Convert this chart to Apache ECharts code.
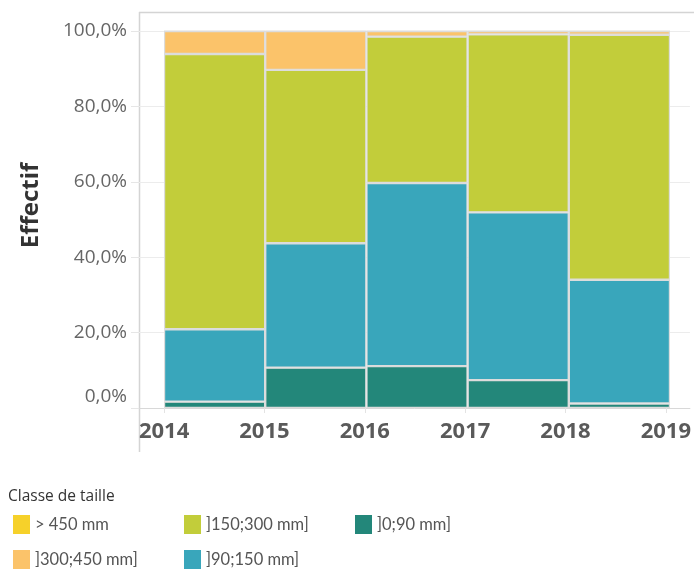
<!DOCTYPE html>
<html lang="fr">
  <head>
    <meta charset="UTF-8" />
    <title>Classe de taille</title>
    <script src="https://cdn.jsdelivr.net/npm/echarts@6/dist/echarts.min.js"></script>
    <style>
      html, body { margin: 0; padding: 0; background: #fff; }
    </style>
  </head>
  <body>
    <div id="main" style="width: 694px; height: 583px"></div>
    <script>
      // one bar per period, each spanning one year
      const periods = ['2014', '2015', '2016', '2017', '2018'];
      const yearTicks = [2014, 2015, 2016, 2017, 2018, 2019];

      // share of catches per size class (%), bottom to top
      const cls0_90 = [1.7, 10.7, 11.1, 7.4, 1.2];
      const cls90_150 = [19.2, 33.0, 48.6, 44.5, 32.8];
      const cls150_300 = [73.0, 46.0, 38.8, 47.2, 65.0];
      const cls300_450 = [6.1, 10.3, 1.5, 0.9, 1.0];
      const clsOver450 = [0, 0, 0, 0, 0];

      const font = 'Open Sans';
      const chart = echarts.init(document.getElementById('main'));

      function makeSeries(name, values, color) {
        return {
          name: name,
          type: 'bar',
          stack: 'total',
          xAxisIndex: 1,
          yAxisIndex: 1,
          barCategoryGap: 0,
          data: values,
          itemStyle: { color: color, borderColor: '#dcdcdc', borderWidth: 1.2 },
          emphasis: { disabled: true },
        };
      }

      const legendBase = {
        orient: 'vertical',
        top: 510,
        itemWidth: 17,
        itemHeight: 19,
        itemGap: 16,
        itemTextGap: 6,
        itemStyle: { borderWidth: 0 },
        textStyle: { fontFamily: 'Lato', fontSize: 16.5, color: '#555' },
        selectedMode: false,
        icon: 'rect',
      };

      const option = {
        animation: false,
        title: {
          text: 'Classe de taille',
          left: 3,
          top: 484,
          textStyle: { fontFamily: font, fontSize: 15.5, fontWeight: 'normal', color: '#333' },
        },
        legend: [
          Object.assign({}, legendBase, { left: 8, data: ['> 450 mm', ']300;450 mm]'] }),
          Object.assign({}, legendBase, { left: 179, data: [']150;300 mm]', ']90;150 mm]'] }),
          Object.assign({}, legendBase, { left: 350, data: [']0;90 mm]'] }),
        ],
        grid: [
          // frame grid: gridlines, axis labels
          { left: 139, right: 0, top: 31, bottom: 175 },
          // bar grid: from 2014 to 2019
          { left: 164, right: 24, top: 31, bottom: 175 },
        ],
        xAxis: [
          {
            type: 'value',
            gridIndex: 0,
            min: 2013.75,
            max: 2019.24,
            splitLine: { show: false },
            axisLine: { show: true, lineStyle: { color: '#d8d8d8' } },
            axisTick: { show: true, customValues: yearTicks, length: 5, lineStyle: { color: '#e3e3e3' } },
            axisLabel: {
              customValues: yearTicks,
              formatter: function (v) { return String(v); },
              fontFamily: font,
              fontSize: 22,
              fontWeight: 'bold',
              color: '#5a5a5a',
              margin: 13,
            },
          },
          {
            type: 'category',
            gridIndex: 1,
            data: periods,
            show: false,
          },
        ],
        yAxis: [
          {
            type: 'value',
            gridIndex: 0,
            min: 0,
            max: 100,
            interval: 20,
            name: 'Effectif',
            nameLocation: 'middle',
            nameGap: 96,
            nameTextStyle: { fontFamily: font, fontSize: 24, fontWeight: 'bold', color: '#333', padding: [0, 0, 0, 28] },
            axisLine: { show: false },
            axisTick: { show: true, length: 8, lineStyle: { color: '#e6e6e6' } },
            splitLine: { lineStyle: { color: '#ececec' } },
            axisLabel: {
              fontFamily: font,
              fontSize: 19,
              color: '#666',
              margin: 12,
              formatter: function (v) {
                const s = v.toFixed(1).replace('.', ',') + '%';
                return v === 0 ? '{z|' + s + '}' : s;
              },
              rich: {
                z: { fontFamily: font, fontSize: 19, color: '#666', padding: [0, 0, 22, 0] },
              },
            },
          },
          {
            type: 'value',
            gridIndex: 1,
            min: 0,
            max: 100,
            show: false,
          },
        ],
        graphic: [
          { type: 'line', shape: { x1: 139, y1: 12.5, x2: 694, y2: 12.5 }, style: { stroke: '#d4d4d4', lineWidth: 1.5 }, silent: true },
          { type: 'line', shape: { x1: 139.5, y1: 12, x2: 139.5, y2: 452 }, style: { stroke: '#d4d4d4', lineWidth: 1.5 }, silent: true },
        ],
        series: [
          makeSeries(']0;90 mm]', cls0_90, '#23877a'),
          makeSeries(']90;150 mm]', cls90_150, '#39a6bb'),
          makeSeries(']150;300 mm]', cls150_300, '#c2cd3a'),
          makeSeries(']300;450 mm]', cls300_450, '#fbc36a'),
          makeSeries('> 450 mm', clsOver450, '#f6d12a'),
        ],
      };
      chart.setOption(option);
    </script>
  </body>
</html>
